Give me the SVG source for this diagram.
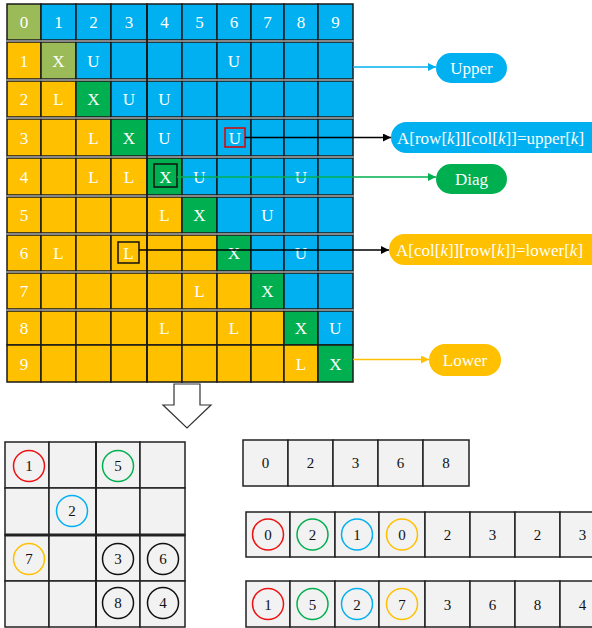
<svg xmlns="http://www.w3.org/2000/svg" width="592" height="628" viewBox="0 0 592 628" font-family="Liberation Serif, Times New Roman, serif">
<defs>
<style>
#grid rect{stroke:#1a1a1a;stroke-width:1.5}
.o{fill:#9BBB59}.b{fill:#00B0F0}.y{fill:#FFC000}.g{fill:#00B050}
.t{font-size:17px;fill:#fff;text-anchor:middle}
.pt{font-size:17px;fill:#fff}
.n{font-size:15px;fill:#111;text-anchor:middle}
.cell{fill:#F2F2F2;stroke:#222;stroke-width:1.5}
.sep{stroke:#9a9a9a;stroke-width:1.5}
.c{fill:none;stroke-width:1.5}
</style>
<marker id="mb" viewBox="0 0 10 10" refX="10" refY="5" markerWidth="10" markerHeight="8" markerUnits="userSpaceOnUse" orient="auto"><path d="M0,0L10,5L0,10z" fill="#00B0F0"/></marker>
<marker id="mk" viewBox="0 0 10 10" refX="10" refY="5" markerWidth="10" markerHeight="8" markerUnits="userSpaceOnUse" orient="auto"><path d="M0,0L10,5L0,10z" fill="#000"/></marker>
<marker id="mg" viewBox="0 0 10 10" refX="10" refY="5" markerWidth="10" markerHeight="8" markerUnits="userSpaceOnUse" orient="auto"><path d="M0,0L10,5L0,10z" fill="#00B050"/></marker>
<marker id="my" viewBox="0 0 10 10" refX="10" refY="5" markerWidth="10" markerHeight="8" markerUnits="userSpaceOnUse" orient="auto"><path d="M0,0L10,5L0,10z" fill="#FFC000"/></marker>
</defs>
<rect width="592" height="628" fill="#fff"/>
<g id="grid">
<rect class="o" x="7" y="4" width="34" height="36"/><rect class="b" x="41" y="4" width="35" height="36"/><rect class="b" x="76" y="4" width="35" height="36"/><rect class="b" x="111" y="4" width="36" height="36"/><rect class="b" x="147" y="4" width="35" height="36"/><rect class="b" x="182" y="4" width="35" height="36"/><rect class="b" x="217" y="4" width="34" height="36"/><rect class="b" x="251" y="4" width="33" height="36"/><rect class="b" x="284" y="4" width="34" height="36"/><rect class="b" x="318" y="4" width="35" height="36"/>
<rect class="y" x="7" y="42" width="34" height="37"/><rect class="o" x="41" y="42" width="35" height="37"/><rect class="b" x="76" y="42" width="35" height="37"/><rect class="b" x="111" y="42" width="36" height="37"/><rect class="b" x="147" y="42" width="35" height="37"/><rect class="b" x="182" y="42" width="35" height="37"/><rect class="b" x="217" y="42" width="34" height="37"/><rect class="b" x="251" y="42" width="33" height="37"/><rect class="b" x="284" y="42" width="34" height="37"/><rect class="b" x="318" y="42" width="35" height="37"/>
<rect class="y" x="7" y="81" width="34" height="36"/><rect class="y" x="41" y="81" width="35" height="36"/><rect class="g" x="76" y="81" width="35" height="36"/><rect class="b" x="111" y="81" width="36" height="36"/><rect class="b" x="147" y="81" width="35" height="36"/><rect class="b" x="182" y="81" width="35" height="36"/><rect class="b" x="217" y="81" width="34" height="36"/><rect class="b" x="251" y="81" width="33" height="36"/><rect class="b" x="284" y="81" width="34" height="36"/><rect class="b" x="318" y="81" width="35" height="36"/>
<rect class="y" x="7" y="119" width="34" height="37"/><rect class="y" x="41" y="119" width="35" height="37"/><rect class="y" x="76" y="119" width="35" height="37"/><rect class="g" x="111" y="119" width="36" height="37"/><rect class="b" x="147" y="119" width="35" height="37"/><rect class="b" x="182" y="119" width="35" height="37"/><rect class="b" x="217" y="119" width="34" height="37"/><rect class="b" x="251" y="119" width="33" height="37"/><rect class="b" x="284" y="119" width="34" height="37"/><rect class="b" x="318" y="119" width="35" height="37"/>
<rect class="y" x="7" y="158" width="34" height="37"/><rect class="y" x="41" y="158" width="35" height="37"/><rect class="y" x="76" y="158" width="35" height="37"/><rect class="y" x="111" y="158" width="36" height="37"/><rect class="g" x="147" y="158" width="35" height="37"/><rect class="b" x="182" y="158" width="35" height="37"/><rect class="b" x="217" y="158" width="34" height="37"/><rect class="b" x="251" y="158" width="33" height="37"/><rect class="b" x="284" y="158" width="34" height="37"/><rect class="b" x="318" y="158" width="35" height="37"/>
<rect class="y" x="7" y="197" width="34" height="36"/><rect class="y" x="41" y="197" width="35" height="36"/><rect class="y" x="76" y="197" width="35" height="36"/><rect class="y" x="111" y="197" width="36" height="36"/><rect class="y" x="147" y="197" width="35" height="36"/><rect class="g" x="182" y="197" width="35" height="36"/><rect class="b" x="217" y="197" width="34" height="36"/><rect class="b" x="251" y="197" width="33" height="36"/><rect class="b" x="284" y="197" width="34" height="36"/><rect class="b" x="318" y="197" width="35" height="36"/>
<rect class="y" x="7" y="235" width="34" height="36"/><rect class="y" x="41" y="235" width="35" height="36"/><rect class="y" x="76" y="235" width="35" height="36"/><rect class="y" x="111" y="235" width="36" height="36"/><rect class="y" x="147" y="235" width="35" height="36"/><rect class="y" x="182" y="235" width="35" height="36"/><rect class="g" x="217" y="235" width="34" height="36"/><rect class="b" x="251" y="235" width="33" height="36"/><rect class="b" x="284" y="235" width="34" height="36"/><rect class="b" x="318" y="235" width="35" height="36"/>
<rect class="y" x="7" y="273" width="34" height="36"/><rect class="y" x="41" y="273" width="35" height="36"/><rect class="y" x="76" y="273" width="35" height="36"/><rect class="y" x="111" y="273" width="36" height="36"/><rect class="y" x="147" y="273" width="35" height="36"/><rect class="y" x="182" y="273" width="35" height="36"/><rect class="y" x="217" y="273" width="34" height="36"/><rect class="g" x="251" y="273" width="33" height="36"/><rect class="b" x="284" y="273" width="34" height="36"/><rect class="b" x="318" y="273" width="35" height="36"/>
<rect class="y" x="7" y="311" width="34" height="34"/><rect class="y" x="41" y="311" width="35" height="34"/><rect class="y" x="76" y="311" width="35" height="34"/><rect class="y" x="111" y="311" width="36" height="34"/><rect class="y" x="147" y="311" width="35" height="34"/><rect class="y" x="182" y="311" width="35" height="34"/><rect class="y" x="217" y="311" width="34" height="34"/><rect class="y" x="251" y="311" width="33" height="34"/><rect class="g" x="284" y="311" width="34" height="34"/><rect class="b" x="318" y="311" width="35" height="34"/>
<rect class="y" x="7" y="345" width="34" height="37"/><rect class="y" x="41" y="345" width="35" height="37"/><rect class="y" x="76" y="345" width="35" height="37"/><rect class="y" x="111" y="345" width="36" height="37"/><rect class="y" x="147" y="345" width="35" height="37"/><rect class="y" x="182" y="345" width="35" height="37"/><rect class="y" x="217" y="345" width="34" height="37"/><rect class="y" x="251" y="345" width="33" height="37"/><rect class="y" x="284" y="345" width="34" height="37"/><rect class="g" x="318" y="345" width="35" height="37"/>
<g class="sep">
<line x1="7" y1="41" x2="353" y2="41"/><line x1="7" y1="80" x2="353" y2="80"/><line x1="7" y1="118" x2="353" y2="118"/><line x1="7" y1="157" x2="353" y2="157"/><line x1="7" y1="196" x2="353" y2="196"/><line x1="7" y1="234" x2="353" y2="234"/><line x1="7" y1="272" x2="353" y2="272"/><line x1="7" y1="310" x2="353" y2="310"/>
</g>
<line x1="147" y1="4" x2="147" y2="382" stroke="#1a1a1a" stroke-width="1.8"/>
<g class="t">
<text x="24" y="28">0</text><text x="58.5" y="28">1</text><text x="93.5" y="28">2</text><text x="129" y="28">3</text><text x="164.5" y="28">4</text><text x="199.5" y="28">5</text><text x="234" y="28">6</text><text x="267.5" y="28">7</text><text x="301" y="28">8</text><text x="335.5" y="28">9</text>
<text x="24" y="66.5">1</text><text x="58.5" y="66.5">X</text><text x="93.5" y="66.5">U</text><text x="234" y="66.5">U</text>
<text x="24" y="105">2</text><text x="58.5" y="105">L</text><text x="93.5" y="105">X</text><text x="129" y="105">U</text><text x="164.5" y="105">U</text>
<text x="24" y="143.5">3</text><text x="93.5" y="143.5">L</text><text x="129" y="143.5">X</text><text x="164.5" y="143.5">U</text><text x="235" y="143.5">U</text>
<text x="24" y="182.5">4</text><text x="93.5" y="182.5">L</text><text x="129" y="182.5">L</text><text x="165.5" y="182.5">X</text><text x="199.5" y="182.5">U</text><text x="301" y="182.5">U</text>
<text x="24" y="221">5</text><text x="164.5" y="221">L</text><text x="199.5" y="221">X</text><text x="267.5" y="221">U</text>
<text x="24" y="259">6</text><text x="58.5" y="259">L</text><text x="128.5" y="259">L</text><text x="234" y="259">X</text><text x="301" y="259">U</text>
<text x="24" y="297">7</text><text x="199.5" y="297">L</text><text x="267.5" y="297">X</text>
<text x="24" y="334">8</text><text x="164.5" y="334">L</text><text x="234" y="334">L</text><text x="301" y="334">X</text><text x="335.5" y="334">U</text>
<text x="24" y="369.5">9</text><text x="301" y="369.5">L</text><text x="335.5" y="369.5">X</text>
</g>
<rect x="225" y="128" width="20" height="19" fill="none" style="stroke:#E00000;stroke-width:1.5"/>
<rect x="154" y="164" width="23" height="23" fill="none" style="stroke:#111;stroke-width:1.5"/>
<rect x="118" y="242" width="21" height="21" fill="none" style="stroke:#111;stroke-width:1.5"/>
</g>
<g id="connectors" fill="none" stroke-width="1.5">
<line x1="353" y1="67" x2="436" y2="67" stroke="#00B0F0" marker-end="url(#mb)"/>
<line x1="245" y1="137.5" x2="391" y2="137.5" stroke="#000" marker-end="url(#mk)"/>
<line x1="177" y1="177" x2="436" y2="177" stroke="#00B050" marker-end="url(#mg)"/>
<line x1="139" y1="250" x2="389" y2="250" stroke="#000" marker-end="url(#mk)"/>
<line x1="353" y1="359.5" x2="429" y2="359.5" stroke="#FFC000" marker-end="url(#my)"/>
</g>
<g id="upper"><rect x="436" y="53" width="71" height="30" rx="15" class="b"/><text class="t" x="471.5" y="74">Upper</text></g>
<g id="upper-assign"><rect x="391" y="122" width="220" height="31" rx="15.5" class="b"/><text class="pt" x="397" y="143.5">A[row[<tspan font-style="italic">k</tspan>]][col[<tspan font-style="italic">k</tspan>]]=upper[<tspan font-style="italic">k</tspan>]</text></g>
<g id="diag"><rect x="436" y="164" width="71" height="30" rx="15" class="g"/><text class="t" x="471.5" y="185">Diag</text></g>
<g id="lower-assign"><rect x="389" y="234" width="220" height="31" rx="15.5" class="y"/><text class="pt" x="396" y="255.5">A[col[<tspan font-style="italic">k</tspan>]][row[<tspan font-style="italic">k</tspan>]]=lower[<tspan font-style="italic">k</tspan>]</text></g>
<g id="lower"><rect x="429" y="344" width="72" height="32" rx="16" class="y"/><text class="t" x="465" y="366">Lower</text></g>
<g id="down-arrow"><polygon points="174,384 200,384 200,405 211,405 187,428 163,405 174,405" fill="#fff" stroke="#333" stroke-width="1.2"/></g>
<g id="block-matrix">
<rect class="cell" x="5" y="442" width="44" height="46"/><rect class="cell" x="49" y="442" width="47" height="46"/><rect class="cell" x="96" y="442" width="44" height="46"/><rect class="cell" x="140" y="442" width="45" height="46"/>
<rect class="cell" x="5" y="488" width="44" height="47"/><rect class="cell" x="49" y="488" width="47" height="47"/><rect class="cell" x="96" y="488" width="44" height="47"/><rect class="cell" x="140" y="488" width="45" height="47"/>
<rect class="cell" x="5" y="535" width="44" height="46"/><rect class="cell" x="49" y="535" width="47" height="46"/><rect class="cell" x="96" y="535" width="44" height="46"/><rect class="cell" x="140" y="535" width="45" height="46"/>
<rect class="cell" x="5" y="581" width="44" height="46"/><rect class="cell" x="49" y="581" width="47" height="46"/><rect class="cell" x="96" y="581" width="44" height="46"/><rect class="cell" x="140" y="581" width="45" height="46"/>
<line x1="5" y1="535" x2="185" y2="535" stroke="#222" stroke-width="3"/>
<line x1="96" y1="442" x2="96" y2="627" stroke="#222" stroke-width="2"/>
<circle class="c" cx="29" cy="466" r="15.5" stroke="#EE1111"/><text class="n" x="29" y="471">1</text>
<circle class="c" cx="118" cy="466" r="15.5" stroke="#00B050"/><text class="n" x="118" y="471">5</text>
<circle class="c" cx="72" cy="511" r="15.5" stroke="#00B0F0"/><text class="n" x="72" y="516">2</text>
<circle class="c" cx="29" cy="559" r="15.5" stroke="#FFC000"/><text class="n" x="29" y="564">7</text>
<circle class="c" cx="118" cy="559" r="15.5" stroke="#111"/><text class="n" x="118" y="564">3</text>
<circle class="c" cx="163" cy="559" r="15.5" stroke="#111"/><text class="n" x="163" y="564">6</text>
<circle class="c" cx="118" cy="603" r="15.5" stroke="#111"/><text class="n" x="118" y="608">8</text>
<circle class="c" cx="163" cy="603" r="15.5" stroke="#111"/><text class="n" x="163" y="608">4</text>
</g>
<g id="array-1">
<rect class="cell" x="243" y="440" width="45" height="46"/><rect class="cell" x="288" y="440" width="45" height="46"/><rect class="cell" x="333" y="440" width="45" height="46"/><rect class="cell" x="378" y="440" width="45" height="46"/><rect class="cell" x="423" y="440" width="46" height="46"/>
<text class="n" x="265.5" y="468">0</text><text class="n" x="310.5" y="468">2</text><text class="n" x="355.5" y="468">3</text><text class="n" x="400.5" y="468">6</text><text class="n" x="446" y="468">8</text>
</g>
<g id="array-2">
<rect class="cell" x="246" y="512" width="44" height="45"/><rect class="cell" x="290" y="512" width="45" height="45"/><rect class="cell" x="335" y="512" width="44" height="45"/><rect class="cell" x="379" y="512" width="46" height="45"/><rect class="cell" x="425" y="512" width="45" height="45"/><rect class="cell" x="470" y="512" width="45" height="45"/><rect class="cell" x="515" y="512" width="45" height="45"/><rect class="cell" x="560" y="512" width="45" height="45"/>
<circle class="c" cx="268" cy="534.5" r="15.5" stroke="#EE1111"/><circle class="c" cx="312.5" cy="534.5" r="15.5" stroke="#00B050"/><circle class="c" cx="357" cy="534.5" r="15.5" stroke="#00B0F0"/><circle class="c" cx="402" cy="534.5" r="15.5" stroke="#FFC000"/>
<text class="n" x="268" y="540">0</text><text class="n" x="312.5" y="540">2</text><text class="n" x="357" y="540">1</text><text class="n" x="402" y="540">0</text><text class="n" x="447.5" y="540">2</text><text class="n" x="492.5" y="540">3</text><text class="n" x="537.5" y="540">2</text><text class="n" x="582.5" y="540">3</text>
</g>
<g id="array-3">
<rect class="cell" x="246" y="581" width="44" height="46"/><rect class="cell" x="290" y="581" width="45" height="46"/><rect class="cell" x="335" y="581" width="44" height="46"/><rect class="cell" x="379" y="581" width="46" height="46"/><rect class="cell" x="425" y="581" width="45" height="46"/><rect class="cell" x="470" y="581" width="45" height="46"/><rect class="cell" x="515" y="581" width="45" height="46"/><rect class="cell" x="560" y="581" width="45" height="46"/>
<circle class="c" cx="268" cy="604" r="15.5" stroke="#EE1111"/><circle class="c" cx="312.5" cy="604" r="15.5" stroke="#00B050"/><circle class="c" cx="357" cy="604" r="15.5" stroke="#00B0F0"/><circle class="c" cx="402" cy="604" r="15.5" stroke="#FFC000"/>
<text class="n" x="268" y="609.5">1</text><text class="n" x="312.5" y="609.5">5</text><text class="n" x="357" y="609.5">2</text><text class="n" x="402" y="609.5">7</text><text class="n" x="447.5" y="609.5">3</text><text class="n" x="492.5" y="609.5">6</text><text class="n" x="537.5" y="609.5">8</text><text class="n" x="582.5" y="609.5">4</text>
</g>
</svg>
